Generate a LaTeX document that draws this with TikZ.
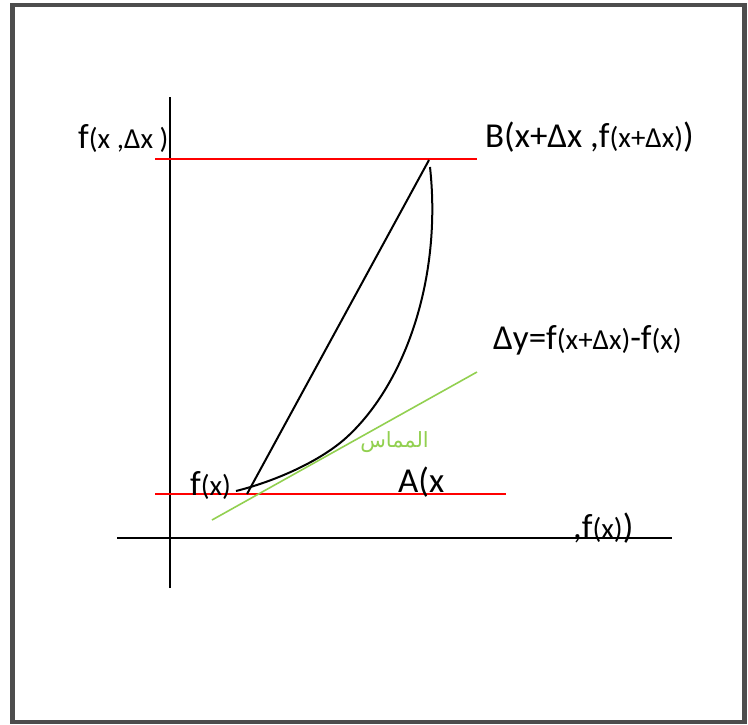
\documentclass[tikz,border=0pt]{standalone}
\usepackage{fontspec}
\setmainfont{Carlito}
\newfontfamily\arabicfont[Script=Arabic]{DejaVu Sans}
\TeXXeTstate=1
\newcommand{\bigt}{\fontsize{35}{40}\selectfont}
\newcommand{\smallt}{\fontsize{29}{33}\selectfont}
\begin{document}
\begin{tikzpicture}[x=1pt,y=-1pt,
  axis/.style={line width=2pt,black},
  redline/.style={line width=2pt,red},
  curveline/.style={line width=2pt,black},
  tangent/.style={line width=1.6pt,color=tangentgreen},
  lbl/.style={inner sep=0pt,anchor=base west,font=\bigt}]
\definecolor{tangentgreen}{RGB}{146,208,80}
\definecolor{framegray}{RGB}{77,77,77}
\useasboundingbox (0,0) rectangle (748,724);
\draw[line width=4.5pt,framegray] (12.5,5) rectangle (744.5,722);
% axes
\coordinate (yb) at (170,588); \coordinate (yt) at (170,97);
\coordinate (xl) at (117,538); \coordinate (xr) at (672,538);
\draw[axis] (yb) -- (yt);
\draw[axis] (xl) -- (xr);
% red horizontal lines
\coordinate (r1l) at (155,159); \coordinate (r1r) at (477,159);
\coordinate (r2l) at (155,494); \coordinate (r2r) at (506,494);
\draw[redline] (r1l) -- (r1r);
\draw[redline] (r2l) -- (r2r);
% tangent
\coordinate (t1) at (212,520); \coordinate (t2) at (477,372);
\draw[tangent] (t1) -- (t2);
% chord
\coordinate (cA) at (247,494); \coordinate (cB) at (429,160);
\draw[curveline] (cA) -- (cB);
% curve
\coordinate (k0) at (236,491); \coordinate (k1) at (347,437); \coordinate (k2) at (430,167);
\draw[curveline] (k0) .. controls (276,481) and (321.2,460.7) .. (k1)
  .. controls (405.9,382.8) and (442,277) .. (k2);
% labels
\node[lbl] (lfdx) at (78,148) {f{\smallt(x ,Δx )}};
\node[lbl] (lB) at (485,147) {B(x+Δx ,f{\smallt(x+Δx)})};
\node[lbl] (ldy) at (493,349) {Δy=f{\smallt(x+Δx)}-f{\smallt(x)}};
\node[lbl] (lfx) at (190,495) {f{\smallt(x)}};
\node[lbl] (lA) at (398,492) {A(x};
\node[lbl] (lfx2) at (573,538) {,f{\smallt(x)})};
\node[inner sep=0pt,anchor=base east,text=tangentgreen,font=\arabicfont\fontsize{21}{25}\selectfont] (ltan) at (429,447) {\beginR المماس\endR};
\end{tikzpicture}
\end{document}
